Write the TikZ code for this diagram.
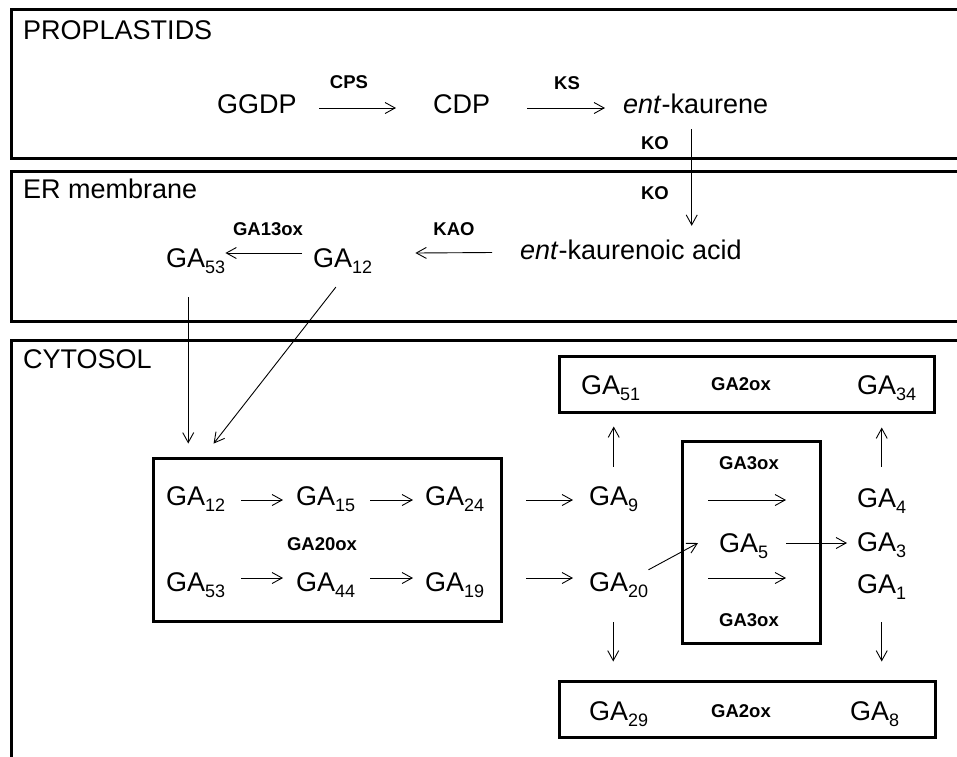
\documentclass[tikz,border=0pt]{standalone}
\usepackage{fontspec}
\setmainfont{Liberation Sans}
\usetikzlibrary{arrows.meta}
\newcommand{\GA}[1]{GA\raisebox{-6pt}{\fontsize{18}{18}\selectfont #1}}

\begin{document}
\begin{tikzpicture}[x=1pt,y=-1pt,
  >={Straight Barb[length=10pt,width=11pt]},
  cpd/.style={font=\fontsize{27}{29}\selectfont,inner sep=0pt,anchor=base west,text height=19pt,text depth=6pt},
  enz/.style={font=\fontsize{18.5}{20}\selectfont\bfseries,inner sep=0pt,anchor=base},
  pool/.style={draw,line width=3pt,inner sep=0pt},
  rxn/.style={->,line width=0.9pt}]
\useasboundingbox (0,0) rectangle (957,756);

% compartments
\draw[pool] (11,9) rectangle (990,158);
\draw[pool] (11,171) rectangle (990,321);
\draw[pool] (11,340) rectangle (990,790);
\node[cpd] (prop) at (23,39) {PROPLASTIDS};
\node[cpd] (erm) at (23,198) {ER membrane};
\node[cpd] (cyt) at (23,368) {CYTOSOL};

% proplastids
\node[cpd] (ggdp) at (217,113) {GGDP};
\node[cpd] (cdp) at (433,113) {CDP};
\node[cpd] (kaurene) at (623,113) {\textit{ent}-kaurene};
\node[enz] (cps) at (349,88) {CPS};
\node[enz] (ks) at (567,89) {KS};
\node[enz] (koa) at (655,149) {KO};

% ER membrane
\node[enz] (kob) at (655,199) {KO};
\node[cpd] (kacid) at (520,259) {\textit{ent}-kaurenoic acid};
\node[cpd] (ga12er) at (313,267) {\GA{12}};
\node[cpd] (ga53er) at (166,267) {\GA{53}};
\node[enz] (kao) at (454,235) {KAO};
\node[enz] (ga13ox) at (268,235) {GA13ox};

% cytosol
\node[pool,minimum width=348pt,minimum height=163pt] (box20) at (327,539.5) {};
\node[pool,minimum width=138pt,minimum height=202pt] (box3) at (751,542) {};
\node[pool,minimum width=375pt,minimum height=56pt] (box2a) at (746.5,384) {};
\node[pool,minimum width=376pt,minimum height=56pt] (box2b) at (747,709) {};

\node[cpd] (ga12) at (166,505) {\GA{12}};
\node[cpd] (ga15) at (296,505) {\GA{15}};
\node[cpd] (ga24) at (425,505) {\GA{24}};
\node[cpd] (ga53) at (166,591) {\GA{53}};
\node[cpd] (ga44) at (296,591) {\GA{44}};
\node[cpd] (ga19) at (425,591) {\GA{19}};
\node[enz] (ga20ox) at (322,550) {GA20ox};

\node[cpd] (ga9) at (589,505) {\GA{9}};
\node[cpd] (ga20) at (589,591) {\GA{20}};
\node[cpd] (ga5) at (719,552) {\GA{5}};
\node[enz] (ga3oxa) at (749,469) {GA3ox};
\node[enz] (ga3oxb) at (749,626) {GA3ox};
\node[cpd] (ga4) at (857,507) {\GA{4}};
\node[cpd] (ga3) at (857,551) {\GA{3}};
\node[cpd] (ga1) at (857,593) {\GA{1}};

\node[cpd] (ga51) at (581,394) {\GA{51}};
\node[enz] (ga2oxa) at (741,390) {GA2ox};
\node[cpd] (ga34) at (857,394) {\GA{34}};
\node[cpd] (ga29) at (589,720) {\GA{29}};
\node[enz] (ga2oxb) at (741,717) {GA2ox};
\node[cpd] (ga8) at (850,720) {\GA{8}};

% reactions
\draw[rxn] ([xshift=22.5pt,yshift=-1.5pt]ggdp.east) -- ([xshift=-37pt,yshift=-1.5pt]cdp.west);
\draw[rxn] ([xshift=37pt,yshift=-1.5pt]cdp.east) -- ([xshift=-18pt,yshift=-1.5pt]kaurene.west);
\draw[rxn,shorten <=10pt,shorten >=14pt] ([xshift=-4pt]kaurene.south) -- ([xshift=-4pt]kaurene.south |- kacid.north);
\draw[rxn] ([xshift=-28pt]kacid.west) -- ([xshift=43pt,yshift=7.5pt]ga12er.east);
\draw[rxn] ([xshift=-11pt,yshift=7.5pt]ga12er.west) -- ([yshift=7.5pt]ga53er.east);
\draw[rxn,shorten <=24pt,shorten >=13pt] ([xshift=-7.5pt]ga53er.south) -- ([xshift=-7.5pt]ga53er.south |- box20.north);
\draw[rxn,shorten <=17.6pt,shorten >=16.4pt] ([xshift=4pt]ga12er.south) -- ([xshift=52pt]box20.north west);

\draw[rxn] ([xshift=16pt,yshift=-1.5pt]ga12.east) -- ([xshift=-13pt,yshift=-1.5pt]ga15.west);
\draw[rxn] ([xshift=15pt,yshift=-1.5pt]ga15.east) -- ([xshift=-12pt,yshift=-1.5pt]ga24.west);
\draw[rxn] ([xshift=16pt,yshift=6.5pt]ga53.east) -- ([xshift=-13pt,yshift=6.5pt]ga44.west);
\draw[rxn] ([xshift=15pt,yshift=6.5pt]ga44.east) -- ([xshift=-12pt,yshift=6.5pt]ga19.west);
\draw[rxn] ([xshift=42pt,yshift=-1.5pt]ga24.east) -- ([xshift=-16pt,yshift=-1.5pt]ga9.west);
\draw[rxn] ([xshift=42pt,yshift=6.5pt]ga19.east) -- ([xshift=-16pt,yshift=6.5pt]ga20.west);

\draw[rxn] ([xshift=70pt,yshift=-1.5pt]ga9.east) -- ([xshift=-71pt,yshift=0.5pt]ga4.west);
\draw[rxn] ([xshift=60pt,yshift=6.5pt]ga20.east) -- ([xshift=-71pt,yshift=8.5pt]ga1.west);
\draw[rxn] ([yshift=2pt]ga20.north east) -- ([xshift=-21pt,yshift=2.5pt]ga5.west);
\draw[rxn] ([xshift=18pt,yshift=2.5pt]ga5.east) -- ([xshift=-10pt,yshift=1.5pt]ga3.west);

\draw[rxn,shorten <=19pt,shorten >=13pt] (ga9.north) -- (ga9.north |- box2a.south);
\draw[rxn,shorten <=21pt,shorten >=14pt] (ga4.north) -- (ga4.north |- box2a.south);
\draw[rxn,shorten <=25pt,shorten >=18pt] ([xshift=-5.5pt]ga20.south) -- ([xshift=-5.5pt]ga20.south |- box2b.north);
\draw[rxn,shorten <=23pt,shorten >=18pt] (ga1.south) -- (ga1.south |- box2b.north);
\end{tikzpicture}
\end{document}
